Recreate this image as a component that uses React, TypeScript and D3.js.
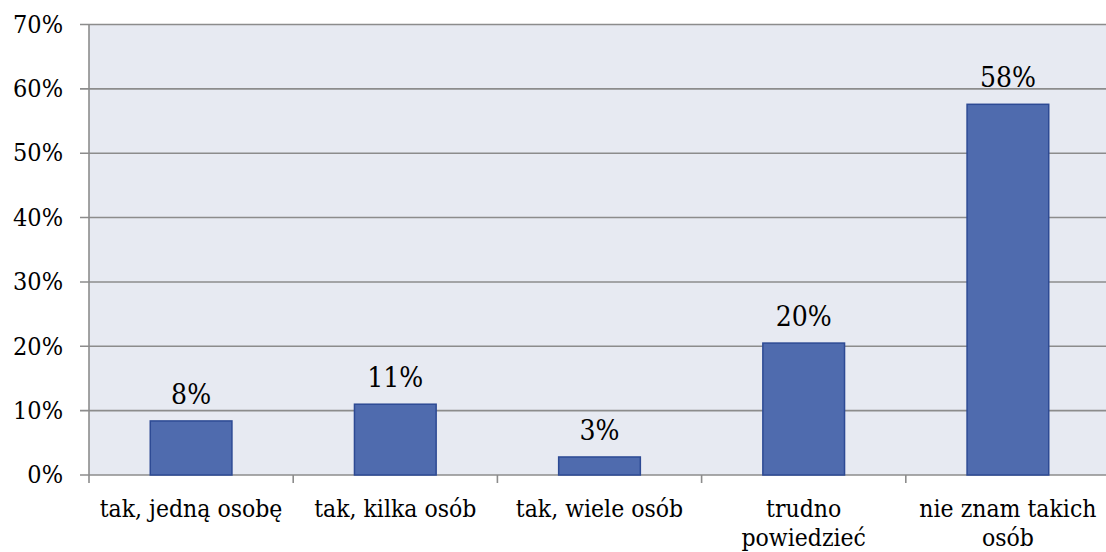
import React from "react";
import * as d3 from "d3";

const categories: string[][] = [
  ["tak, jedną osobę"],
  ["tak, kilka osób"],
  ["tak, wiele osób"],
  ["trudno", "powiedzieć"],
  ["nie znam takich", "osób"],
];
const values: number[] = [8.4, 11.0, 2.8, 20.5, 57.6];
const valueLabels: string[] = ["8%", "11%", "3%", "20%", "58%"];
const yTicks: number[] = [0, 10, 20, 30, 40, 50, 60, 70];

const W = 1106;
const H = 552;
const left = 89;
const right = 1110;
const top = 24.5;
const bottom = 475;
const font = "'DejaVu Serif Condensed', 'DejaVu Serif', serif";

export default function App() {
  const x = d3
    .scaleBand<number>()
    .domain(categories.map((_, i) => i))
    .range([left, right])
    .paddingInner(0.6)
    .paddingOuter(0.3);
  const y = d3.scaleLinear().domain([0, 70]).range([bottom, top]);
  const step = (right - left) / categories.length;
  const textStyle = { fontStretch: "condensed" as const };

  return (
    <svg
      width={W}
      height={H}
      style={{ position: "absolute", left: 0, top: 0, background: "#fff" }}
    >
      <rect x={left} y={top} width={right - left} height={bottom - top} fill="#e7eaf2" />
      {yTicks.map((t) => (
        <g key={t}>
          <line x1={80} x2={right} y1={y(t)} y2={y(t)} stroke="#8c8c8c" strokeWidth={1.6} />
          <text
            x={63}
            y={y(t)}
            dy="0.33em"
            textAnchor="end"
            fontFamily={font}
            fontSize={25}
            style={textStyle}
            fill="#000"
          >
            {t}%
          </text>
        </g>
      ))}
      <line x1={left} x2={left} y1={top} y2={bottom + 8} stroke="#8c8c8c" strokeWidth={1.6} />
      {categories.map((_, i) => (
        <line
          key={i}
          x1={left + step * (i + 1)}
          x2={left + step * (i + 1)}
          y1={bottom}
          y2={bottom + 8}
          stroke="#8c8c8c"
          strokeWidth={1.6}
        />
      ))}
      {values.map((v, i) => (
        <g key={i}>
          <rect
            x={x(i)!}
            y={y(v)}
            width={x.bandwidth()}
            height={bottom - y(v)}
            fill="#4f6bae"
            stroke="#2d4a94"
            strokeWidth={1.5}
          />
          <text
            x={x(i)! + x.bandwidth() / 2}
            y={y(v) - 17}
            textAnchor="middle"
            fontFamily={font}
            fontSize={28}
            style={textStyle}
            fill="#000"
          >
            {valueLabels[i]}
          </text>
        </g>
      ))}
      {categories.map((lines, i) => (
        <text
          key={i}
          x={x(i)! + x.bandwidth() / 2}
          y={517}
          textAnchor="middle"
          fontFamily={font}
          fontSize={24.5}
          style={textStyle}
          fill="#000"
        >
          {lines.map((l, j) => (
            <tspan key={j} x={x(i)! + x.bandwidth() / 2} dy={j === 0 ? 0 : 29}>
              {l}
            </tspan>
          ))}
        </text>
      ))}
    </svg>
  );
}
